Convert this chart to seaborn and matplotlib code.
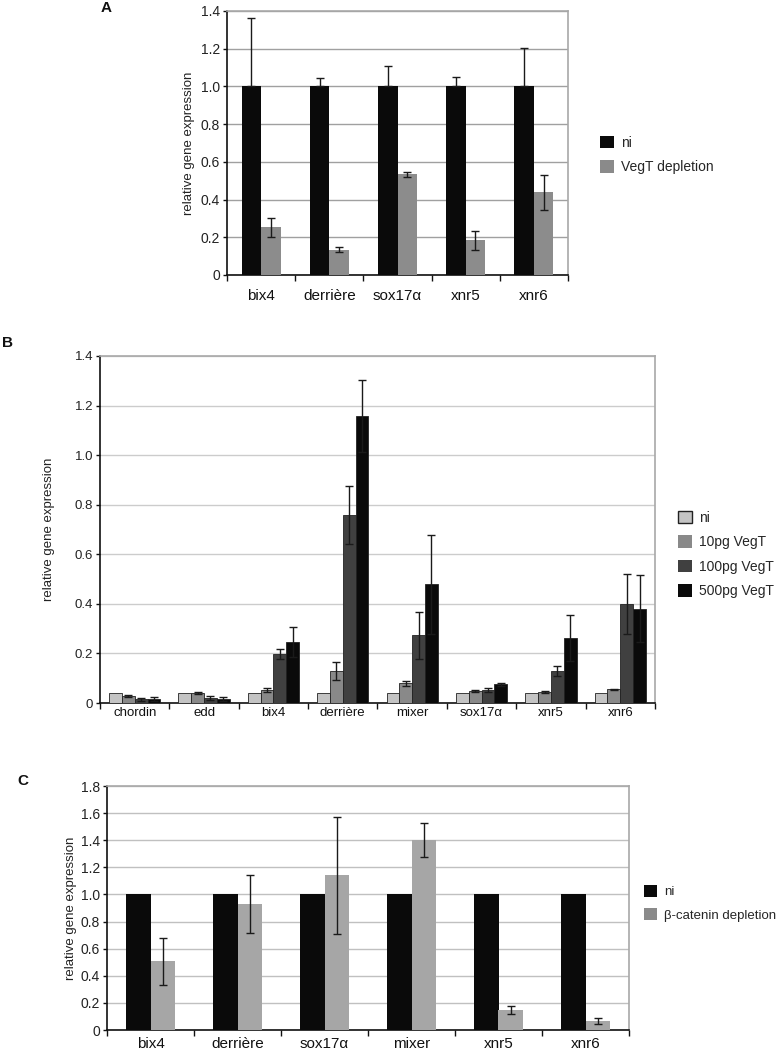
import numpy as np
import pandas as pd
import matplotlib
matplotlib.use("Agg")
import matplotlib.pyplot as plt
from matplotlib.patches import Patch
import seaborn as sns

sns.set_theme(style="white")
plt.rcParams['font.family'] = ['Liberation Sans', 'DejaVu Sans']

# ---------------- data ----------------
genes_a = ["bix4", "derrière", "sox17α", "xnr5", "xnr6"]
a_ni = [1.0, 1.0, 1.0, 1.0, 1.0]
a_ni_err = [0.364, 0.043, 0.11, 0.048, 0.204]
a_vegt = [0.252, 0.135, 0.535, 0.185, 0.438]
a_vegt_err = [0.05, 0.012, 0.013, 0.05, 0.094]
series_a = ["ni", "VegT depletion"]

genes_b = ["chordin", "edd", "bix4", "derrière", "mixer", "sox17α", "xnr5", "xnr6"]
b_ni = [0.04, 0.04, 0.04, 0.04, 0.04, 0.04, 0.04, 0.04]
b_ni_err = [0, 0, 0, 0, 0, 0, 0, 0]
b_10 = [0.028, 0.04, 0.053, 0.128, 0.08, 0.048, 0.045, 0.055]
b_10_err = [0.003, 0.003, 0.008, 0.036, 0.01, 0.005, 0.003, 0.003]
b_100 = [0.015, 0.02, 0.198, 0.759, 0.274, 0.053, 0.129, 0.40]
b_100_err = [0.007, 0.007, 0.019, 0.116, 0.095, 0.007, 0.021, 0.12]
b_500 = [0.015, 0.018, 0.245, 1.158, 0.479, 0.075, 0.262, 0.38]
b_500_err = [0.008, 0.008, 0.06, 0.145, 0.2, 0.006, 0.093, 0.135]
series_b = ["ni", "10pg VegT", "100pg VegT", "500pg VegT"]

genes_c = ["bix4", "derrière", "sox17α", "mixer", "xnr5", "xnr6"]
c_ni = [1.0, 1.0, 1.0, 1.0, 1.0, 1.0]
c_ni_err = [0, 0, 0, 0, 0, 0]
c_bcat = [0.506, 0.928, 1.14, 1.40, 0.147, 0.066]
c_bcat_err = [0.175, 0.215, 0.43, 0.125, 0.03, 0.022]
series_c = ["ni", "β-catenin depletion"]


def long_df(genes, series, vals):
    rows = []
    for s, v in zip(series, vals):
        for g, x in zip(genes, v):
            rows.append({"gene": g, "series": s, "value": x})
    return pd.DataFrame(rows)


def fmt(v):
    return "0" if abs(v) < 1e-9 else f"{v:.1f}"


fig = plt.figure(figsize=(7.82, 10.5), dpi=100)


def panel(rect, genes, series, vals, errs, plus_only, colors, edge, width, ymax, ystep,
          grid_color, label_size, tick_size, xpad, legend_colors, legend_edges,
          legend_xy, legend_fs, ylabel_pad, letter, letter_xy):
    ax = fig.add_axes(rect)
    df = long_df(genes, series, vals)
    sns.barplot(data=df, x="gene", y="value", hue="series", order=genes,
                hue_order=series, palette=colors, width=width, gap=0,
                errorbar=None, legend=False, ax=ax, saturation=1,
                edgecolor=edge, linewidth=0.6 if edge != "none" else 0,
                zorder=3)
    for cont, e, po in zip(ax.containers, errs, plus_only):
        xs = [p.get_x() + p.get_width() / 2 for p in cont.patches]
        hs = [p.get_height() for p in cont.patches]
        e = np.asarray(e, float)
        m = e > 0
        if m.any():
            up = e[m]
            lo = np.zeros_like(up) if po else up
            ax.errorbar(np.array(xs)[m], np.array(hs)[m], yerr=[lo, up], fmt="none",
                        ecolor="#1a1a1a", elinewidth=1.0, capsize=2.7,
                        capthick=1.0, zorder=4)
    n = len(genes)
    ax.set_xlim(-0.5, n - 0.5)
    ax.set_ylim(0, ymax)
    yt = np.round(np.arange(0, ymax + 1e-9, ystep), 2)
    ax.set_yticks(yt)
    ax.set_yticklabels([fmt(v) for v in yt], fontsize=tick_size, color="#222222")
    ax.yaxis.grid(True, color=grid_color, linewidth=1.0, zorder=0)
    ax.set_axisbelow(True)
    ax.set_xticks(range(n))
    ax.set_xticklabels(genes, fontsize=label_size, color="#111111")
    ax.set_xticks(np.arange(-0.5, n, 1.0), minor=True)
    ax.tick_params(axis="x", which="major", length=0, pad=xpad)
    ax.tick_params(axis="x", which="minor", length=4, width=1.0, direction="out",
                   color="#111111", bottom=True)
    ax.tick_params(axis="y", which="major", length=3, width=1.0, direction="out",
                   color="#111111", left=True, pad=2)
    ax.set_xlabel("")
    ax.set_ylabel("relative gene expression", fontsize=9.5, color="#222222",
                  labelpad=ylabel_pad)
    for s in ["left", "bottom"]:
        ax.spines[s].set_color("#111111")
        ax.spines[s].set_linewidth(1.2)
    for s in ["top", "right"]:
        ax.spines[s].set_color("#a8a8a8")
        ax.spines[s].set_linewidth(1.2)
    handles = [Patch(facecolor=c, edgecolor=ec, linewidth=1.0 if ec != "none" else 0, label=l)
               for c, ec, l in zip(legend_colors, legend_edges, series)]
    fig.legend(handles=handles, loc="upper left", bbox_to_anchor=legend_xy,
               bbox_transform=fig.transFigure, frameon=False, fontsize=legend_fs,
               handlelength=1.0, handleheight=1.0, handletextpad=0.5,
               labelspacing=0.75, borderaxespad=0, borderpad=0)
    fig.text(letter_xy[0], letter_xy[1], letter, fontsize=11, fontweight="bold",
             ha="left", va="top", color="#111111")
    return ax


# Panel A
panel([227 / 782, 1 - 275 / 1050, 341 / 782, 264 / 1050],
      genes_a, series_a, [a_ni, a_vegt], [a_ni_err, a_vegt_err], [True, False],
      ["#0a0a0a", "#8c8c8c"], "none", 0.57, 1.4, 0.2, "#a0a0a0",
      11, 10, 10, ["#0a0a0a", "#8a8a8a"], ["none", "none"],
      (600 / 782, 1 - 136 / 1050), 10, 4, "A", (101 / 782, 1 - 1 / 1050))

# Panel B
panel([100 / 782, 1 - 703 / 1050, 555 / 782, 347 / 1050],
      genes_b, series_b, [b_ni, b_10, b_100, b_500],
      [b_ni_err, b_10_err, b_100_err, b_500_err], [False] * 4,
      ["#c4c4c4", "#898989", "#404040", "#0a0a0a"], "#222222", 0.74, 1.4, 0.2,
      "#cccccc", 9.5, 9.5, 3,
      ["#c4c4c4", "#898989", "#404040", "#0a0a0a"],
      ["#222222", "none", "none", "none"],
      (678 / 782, 1 - 511 / 1050), 10, 14, "B", (2 / 782, 1 - 336 / 1050))

# Panel C
panel([107 / 782, 1 - 1030 / 1050, 522 / 782, 244 / 1050],
      genes_c, series_c, [c_ni, c_bcat], [c_ni_err, c_bcat_err], [False, False],
      ["#0a0a0a", "#a6a6a6"], "none", 0.56, 1.8, 0.2, "#c0c0c0",
      11, 10, 5, ["#0a0a0a", "#8a8a8a"], ["none", "none"],
      (644 / 782, 1 - 885 / 1050), 9.5, 3, "C", (17 / 782, 1 - 774 / 1050))

fig.savefig("out.png", dpi=100, facecolor="white")
